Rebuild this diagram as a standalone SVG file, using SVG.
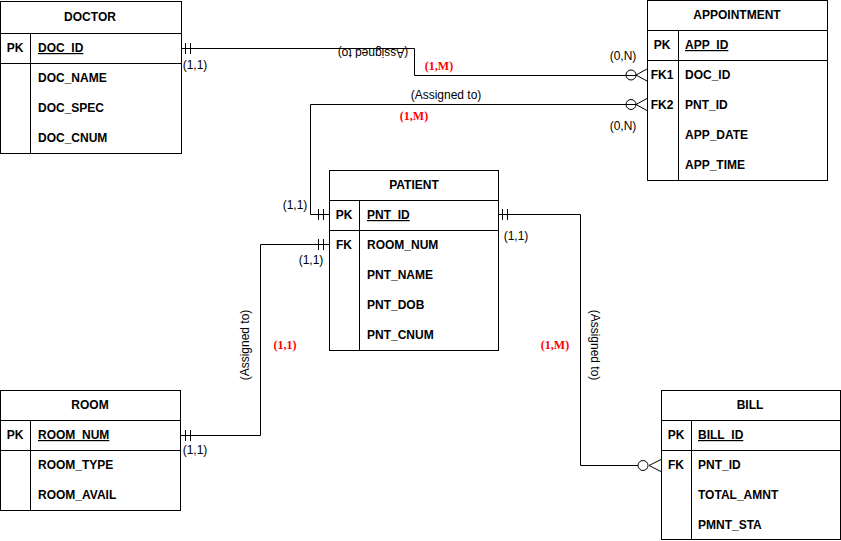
<svg xmlns="http://www.w3.org/2000/svg" width="841" height="541" viewBox="0 0 841 541">
<style>
.box{fill:#fff;stroke:#000;stroke-width:1}
.ln{fill:none;stroke:#000;stroke-width:1}
.t{font-family:"Liberation Sans",Arial,sans-serif;font-size:12px;font-weight:bold;fill:#000}
.c{text-anchor:middle}
.u{text-decoration:underline}
.lb{font-family:"Liberation Sans",Arial,sans-serif;font-size:12px;fill:#000;text-anchor:middle}
.red{font-family:"Liberation Serif","Times New Roman",serif;font-size:12px;font-weight:bold;fill:#f00;text-anchor:middle}
</style>
<rect width="841" height="541" fill="#fff"/>
<g id="connectors">
  <!-- Doctor - Appointment -->
  <path class="ln" d="M181.5,48.5 H414.5 V75.5 H636"/>
  <path class="ln" d="M185.5,43 V54 M190.5,43 V54"/>
  <circle class="ln" cx="631" cy="75" r="5" fill="#fff"/>
  <path class="ln" d="M647,69 L636,75 L647,81"/>
  <!-- Patient - Appointment -->
  <path class="ln" d="M329,214.5 H310.5 V104.5 H636"/>
  <path class="ln" d="M318.5,209 V220 M323.5,209 V220"/>
  <circle class="ln" cx="631" cy="104.5" r="5" fill="#fff"/>
  <path class="ln" d="M647,98.5 L636,104.5 L647,110.5"/>
  <!-- Room - Patient -->
  <path class="ln" d="M180,435.5 H260.5 V244.5 H329"/>
  <path class="ln" d="M185.5,430 V441 M190.5,430 V441"/>
  <path class="ln" d="M318.5,239 V250 M323.5,239 V250"/>
  <!-- Patient - Bill -->
  <path class="ln" d="M498,214.5 H580.5 V465.5 H638"/>
  <path class="ln" d="M502.5,209 V220 M507.5,209 V220"/>
  <circle class="ln" cx="643" cy="465.5" r="5" fill="#fff"/>
  <path class="ln" d="M661,459.5 L649,465.5 L661,471.5"/>
  <!-- labels -->
  <text class="lb" transform="rotate(180 373 53)" x="373" y="57">(Assigned to)</text>
  <text class="lb" x="195" y="69">(1,1)</text>
  <text class="red" x="439" y="70">(1,M)</text>
  <text class="lb" x="623" y="60">(0,N)</text>
  <text class="lb" x="446" y="99">(Assigned to)</text>
  <text class="red" x="414" y="120">(1,M)</text>
  <text class="lb" x="623" y="130">(0,N)</text>
  <text class="lb" x="295" y="209">(1,1)</text>
  <text class="lb" x="311" y="264">(1,1)</text>
  <text class="lb" x="516" y="240">(1,1)</text>
  <text class="lb" x="195" y="454">(1,1)</text>
  <text class="lb" transform="rotate(-90 245 345)" x="245" y="349">(Assigned to)</text>
  <text class="red" x="285" y="349">(1,1)</text>
  <text class="lb" transform="rotate(90 595 345)" x="595" y="349">(Assigned to)</text>
  <text class="red" x="555" y="349">(1,M)</text>
</g>
<g id="doctor">
  <rect class="box" x="0.5" y="1.5" width="181" height="152"/>
  <path class="ln" d="M0.5,33.5 H181.5 M0.5,63.5 H181.5 M30.5,33.5 V153.5"/>
  <text class="t c" x="90" y="21">DOCTOR</text>
  <text class="t c" x="15" y="52">PK</text>
  <text class="t u" x="38" y="52">DOC_ID</text>
  <text class="t" x="38" y="82">DOC_NAME</text>
  <text class="t" x="38" y="112">DOC_SPEC</text>
  <text class="t" x="38" y="142">DOC_CNUM</text>
</g>
<g id="appointment">
  <rect class="box" x="647.5" y="0.5" width="180" height="180"/>
  <path class="ln" d="M647.5,30.5 H827.5 M647.5,60.5 H827.5 M678.5,30.5 V180.5"/>
  <text class="t c" x="737" y="19">APPOINTMENT</text>
  <text class="t c" x="662" y="49">PK</text>
  <text class="t u" x="685" y="49">APP_ID</text>
  <text class="t c" x="662" y="79">FK1</text>
  <text class="t" x="685" y="79">DOC_ID</text>
  <text class="t c" x="662" y="109">FK2</text>
  <text class="t" x="685" y="109">PNT_ID</text>
  <text class="t" x="685" y="139">APP_DATE</text>
  <text class="t" x="685" y="169">APP_TIME</text>
</g>
<g id="patient">
  <rect class="box" x="329.5" y="170.5" width="169" height="180"/>
  <path class="ln" d="M329.5,200.5 H498.5 M329.5,230.5 H498.5 M359.5,200.5 V350.5"/>
  <text class="t c" x="414" y="189">PATIENT</text>
  <text class="t c" x="344" y="219">PK</text>
  <text class="t u" x="367" y="219">PNT_ID</text>
  <text class="t c" x="344" y="249">FK</text>
  <text class="t" x="367" y="249">ROOM_NUM</text>
  <text class="t" x="367" y="279">PNT_NAME</text>
  <text class="t" x="367" y="309">PNT_DOB</text>
  <text class="t" x="367" y="339">PNT_CNUM</text>
</g>
<g id="room">
  <rect class="box" x="0.5" y="390.5" width="180" height="120"/>
  <path class="ln" d="M0.5,420.5 H180.5 M0.5,450.5 H180.5 M30.5,420.5 V510.5"/>
  <text class="t c" x="90" y="409">ROOM</text>
  <text class="t c" x="15" y="439">PK</text>
  <text class="t u" x="38" y="439">ROOM_NUM</text>
  <text class="t" x="38" y="469">ROOM_TYPE</text>
  <text class="t" x="38" y="499">ROOM_AVAIL</text>
</g>
<g id="bill">
  <rect class="box" x="661.5" y="390.5" width="179" height="149"/>
  <path class="ln" d="M661.5,420.5 H840.5 M661.5,450.5 H840.5 M691.5,420.5 V539.5"/>
  <text class="t c" x="750" y="409">BILL</text>
  <text class="t c" x="676" y="439">PK</text>
  <text class="t u" x="698" y="439">BILL_ID</text>
  <text class="t c" x="676" y="469">FK</text>
  <text class="t" x="698" y="469">PNT_ID</text>
  <text class="t" x="698" y="499">TOTAL_AMNT</text>
  <text class="t" x="698" y="529">PMNT_STA</text>
</g>
</svg>
